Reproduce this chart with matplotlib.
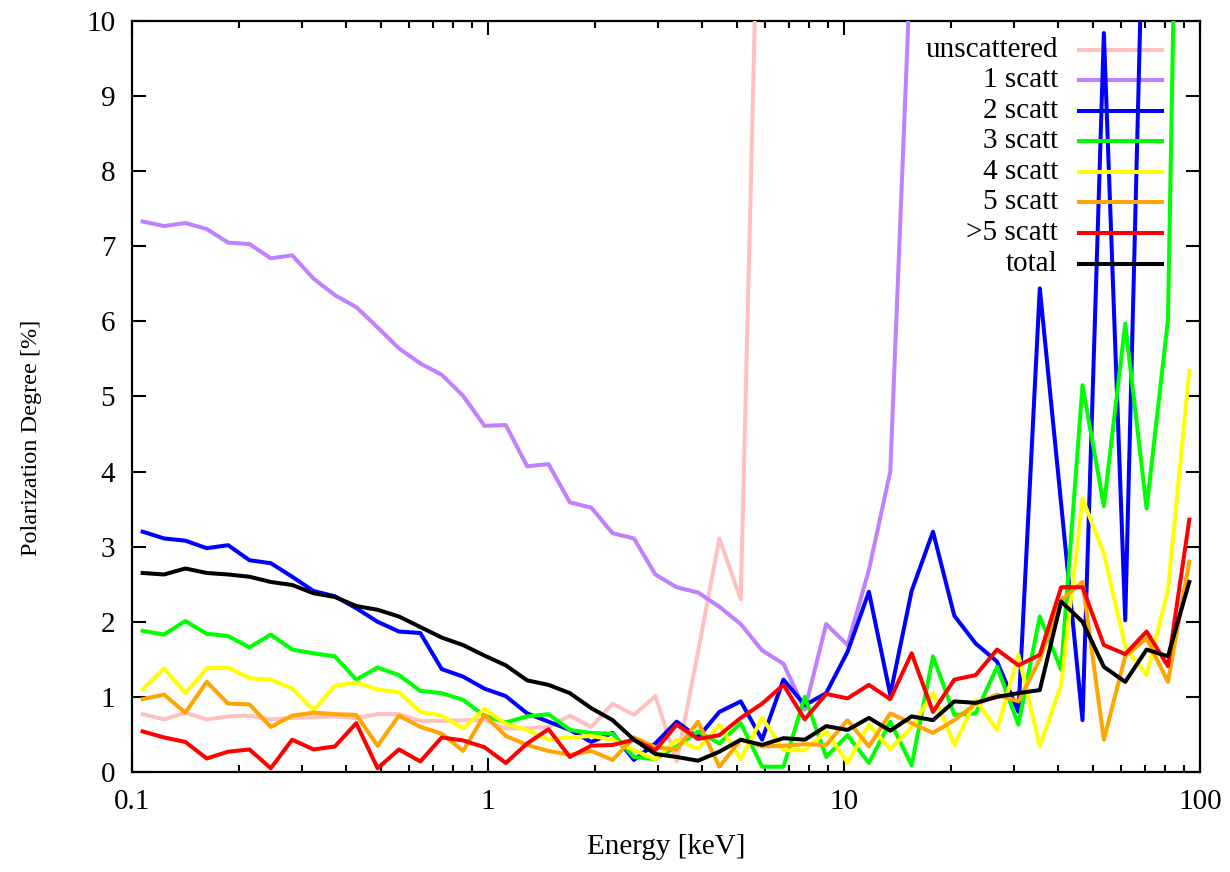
import numpy as np
import matplotlib
matplotlib.use("Agg")
import matplotlib.pyplot as plt
from matplotlib.ticker import LogLocator, NullFormatter

plt.rcParams['font.family'] = ['Liberation Serif', 'DejaVu Serif']
plt.rcParams['font.size'] = 21

# 50 log-spaced energy bins between 0.1 and 100 keV (bin centres)
edges = np.logspace(-1, 2, 51)
energy = np.sqrt(edges[:-1] * edges[1:])

# polarization degree [%] per scattering order
unscattered = [0.77, 0.70, 0.79, 0.70, 0.74, 0.75, 0.70, 0.72, 0.73, 0.74,
               0.72, 0.77, 0.77, 0.68, 0.68, 0.69, 0.69, 0.58, 0.58, 0.60,
               0.75, 0.60, 0.91, 0.76, 1.01, 0.14, 1.60, 3.11, 2.30, 14.0,
               18.0, 21.0, 24.0, 26.0, 28.0, 30.0, 31.0, 33.0, 34.0, 35.0,
               36.0, 37.0, 38.0, 38.0, 39.0, 40.0, 40.0, 41.0, 41.0, 42.0]
scatt1 = [7.33, 7.27, 7.31, 7.23, 7.05, 7.03, 6.84, 6.88, 6.57, 6.35,
          6.19, 5.92, 5.64, 5.44, 5.29, 5.01, 4.61, 4.62, 4.07, 4.10,
          3.59, 3.52, 3.18, 3.11, 2.63, 2.46, 2.39, 2.20, 1.97, 1.62,
          1.44, 0.83, 1.97, 1.69, 2.69, 4.00, 11.1, 15.0, 18.0, 20.0,
          22.0, 24.0, 25.0, 26.0, 27.0, 28.0, 29.0, 30.0, 30.0, 31.0]
scatt2 = [3.20, 3.11, 3.08, 2.98, 3.02, 2.82, 2.78, 2.60, 2.41, 2.34,
          2.18, 2.00, 1.87, 1.85, 1.37, 1.27, 1.11, 1.01, 0.78, 0.67,
          0.56, 0.40, 0.52, 0.16, 0.38, 0.67, 0.46, 0.80, 0.94, 0.43,
          1.23, 0.89, 1.05, 1.60, 2.40, 1.03, 2.41, 3.20, 2.08, 1.71,
          1.47, 0.80, 6.44, 3.57, 0.69, 9.84, 2.02, 13.4, 15.0, 18.0]
scatt3 = [1.88, 1.83, 2.01, 1.84, 1.81, 1.66, 1.83, 1.63, 1.58, 1.54,
          1.23, 1.39, 1.29, 1.08, 1.05, 0.96, 0.75, 0.66, 0.74, 0.77,
          0.56, 0.52, 0.51, 0.20, 0.17, 0.34, 0.54, 0.38, 0.65, 0.07,
          0.07, 1.00, 0.20, 0.49, 0.12, 0.67, 0.09, 1.54, 0.76, 0.78,
          1.40, 0.63, 2.07, 1.36, 5.15, 3.54, 5.97, 3.51, 6.02, 22.0]
scatt4 = [1.10, 1.38, 1.05, 1.38, 1.39, 1.25, 1.23, 1.11, 0.82, 1.15,
          1.19, 1.10, 1.06, 0.80, 0.75, 0.58, 0.84, 0.64, 0.56, 0.43,
          0.46, 0.48, 0.43, 0.29, 0.17, 0.43, 0.31, 0.63, 0.17, 0.72,
          0.29, 0.29, 0.54, 0.12, 0.63, 0.30, 0.60, 1.05, 0.36, 0.96,
          0.56, 1.56, 0.34, 1.16, 3.64, 2.91, 1.67, 1.29, 2.42, 5.34]
scatt5 = [0.97, 1.03, 0.79, 1.20, 0.91, 0.90, 0.60, 0.75, 0.79, 0.77,
          0.76, 0.35, 0.75, 0.60, 0.51, 0.28, 0.76, 0.48, 0.36, 0.28,
          0.23, 0.28, 0.16, 0.46, 0.33, 0.30, 0.67, 0.07, 0.43, 0.34,
          0.35, 0.37, 0.36, 0.69, 0.34, 0.78, 0.65, 0.52, 0.69, 0.91,
          1.03, 0.94, 1.50, 2.29, 2.53, 0.43, 1.54, 1.78, 1.20, 2.80]
scatt_more = [0.54, 0.46, 0.40, 0.18, 0.27, 0.30, 0.05, 0.43, 0.30, 0.34,
              0.65, 0.05, 0.30, 0.14, 0.46, 0.42, 0.33, 0.12, 0.38, 0.57,
              0.20, 0.35, 0.36, 0.43, 0.29, 0.63, 0.44, 0.49, 0.72, 0.91,
              1.16, 0.70, 1.04, 0.98, 1.16, 0.97, 1.58, 0.80, 1.23, 1.29,
              1.63, 1.42, 1.56, 2.46, 2.46, 1.69, 1.57, 1.87, 1.41, 3.36]
total = [2.65, 2.63, 2.71, 2.65, 2.63, 2.60, 2.53, 2.49, 2.38, 2.33,
         2.21, 2.16, 2.07, 1.93, 1.79, 1.69, 1.55, 1.42, 1.22, 1.16,
         1.05, 0.85, 0.69, 0.43, 0.24, 0.20, 0.15, 0.27, 0.43, 0.36,
         0.45, 0.43, 0.61, 0.56, 0.72, 0.55, 0.74, 0.69, 0.94, 0.92,
         1.00, 1.05, 1.09, 2.27, 2.00, 1.40, 1.20, 1.63, 1.54, 2.53]

names = ['unscattered', '1 scatt', '2 scatt', '3 scatt', '4 scatt',
         '5 scatt', '>5 scatt', 'total']
series = [unscattered, scatt1, scatt2, scatt3, scatt4, scatt5, scatt_more, total]
colors = ['#ffc0c0', '#c080ff', '#0000ff', '#00ff00', '#ffff00',
          '#ffa500', '#ff0000', '#000000']

fig = plt.figure(figsize=(12.3, 8.72), dpi=100)
ax = fig.add_axes([0.1073, 0.1147, 0.8683, 0.8612])

# gnuplot-style key: right-aligned text, sample line to its right,
# each sample drawn just before its curve
key_x_text, key_x0, key_x1 = 0.867, 0.885, 0.966
key_y0, key_dy = 0.962, 0.0407
for k, (name, vals, col) in enumerate(zip(names, series, colors)):
    ky = key_y0 - k * key_dy
    z = 2 + 2 * k
    ax.text(key_x_text, ky, name, transform=ax.transAxes, ha='right',
            va='center', fontsize=21, zorder=30)
    ax.plot([key_x0, key_x1], [ky, ky], transform=ax.transAxes, color=col,
            lw=2.9, solid_capstyle='butt', zorder=z)
    ax.plot(energy, vals, color=col, lw=2.9, zorder=z + 1)

ax.set_xscale('log')
ax.set_xlim(0.1, 100)
ax.set_ylim(0, 10)
ax.set_xticks([0.1, 1, 10, 100], labels=['0.1', '1', '10', '100'])
ax.xaxis.set_minor_locator(LogLocator(base=10, subs=np.arange(2, 10)))
ax.xaxis.set_minor_formatter(NullFormatter())
ax.set_yticks(range(0, 11))

ax.tick_params(which='both', direction='in', top=True, right=True, width=1.5)
ax.tick_params(which='major', length=10, pad=12)
ax.tick_params(which='minor', length=5)
for sp in ax.spines.values():
    sp.set_linewidth(1.6)

ax.set_xlabel('Energy [keV]', labelpad=14)
ax.set_ylabel('Polarization Degree [%]', fontsize=17.5)
ax.yaxis.set_label_coords(-0.084, 0.445)

fig.savefig('out.png', dpi=100)
